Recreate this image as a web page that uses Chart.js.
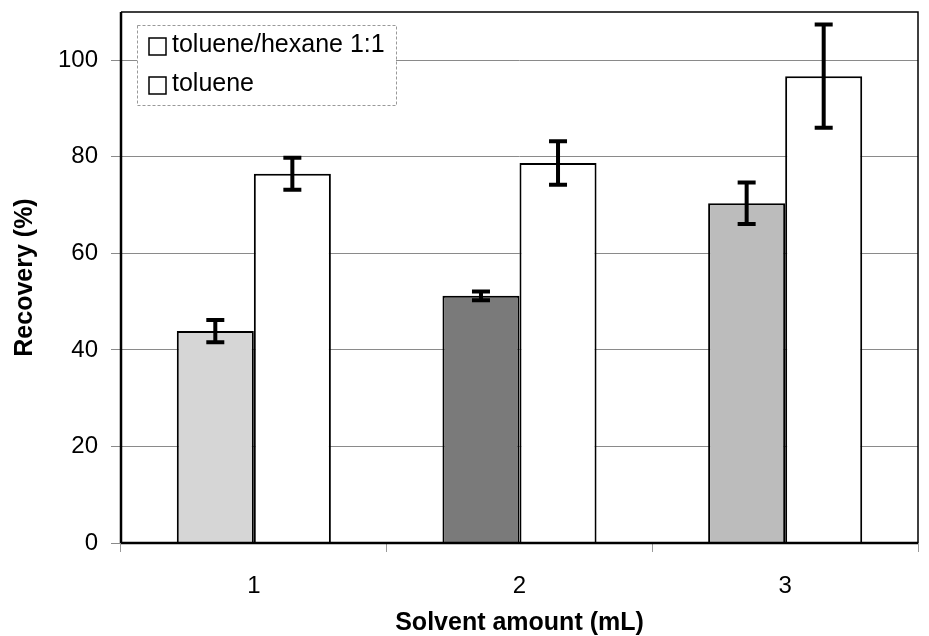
<!DOCTYPE html>
<html>
<head>
<meta charset="utf-8">
<script src="https://cdn.jsdelivr.net/npm/chart.js@4/dist/chart.umd.min.js"></script>
<style>
html,body{margin:0;padding:0;background:#fff;}
#wrap{position:relative;width:929px;height:636px;}
</style>
</head>
<body>
<div id="wrap"><canvas id="c" width="929" height="636"></canvas></div>
<script>
const categories = ['1', '2', '3'];
const seriesNames = ['toluene/hexane 1:1', 'toluene'];
const mixValues = [43.9, 51.2, 70.4];
const mixErrors = [2.3, 0.9, 4.3];
const tolueneValues = [76.5, 78.7, 96.7];
const tolueneErrors = [3.3, 4.5, 10.7];
const yTicks = [0, 20, 40, 60, 80, 100];
const yMax = 110;

const FONT = "'Liberation Sans', Arial, sans-serif";

const errorBars = {
  id: 'errorBars',
  afterDatasetsDraw(chart) {
    const ctx = chart.ctx, y = chart.scales.y;
    chart.data.datasets.forEach((ds, i) => {
      const meta = chart.getDatasetMeta(i);
      meta.data.forEach((el, j) => {
        const v = ds.data[j], e = ds.errors[j];
        const yt = y.getPixelForValue(v + e), yb = y.getPixelForValue(v - e);
        ctx.save();
        ctx.strokeStyle = '#000';
        ctx.lineWidth = 4;
        ctx.beginPath();
        ctx.moveTo(el.x, yt); ctx.lineTo(el.x, yb);
        ctx.moveTo(el.x - 9, yt); ctx.lineTo(el.x + 9, yt);
        ctx.moveTo(el.x - 9, yb); ctx.lineTo(el.x + 9, yb);
        ctx.stroke();
        ctx.restore();
      });
    });
  }
};

const frame = {
  id: 'frame',
  afterDatasetsDraw(chart) {
    const a = chart.chartArea, ctx = chart.ctx;
    ctx.save();
    ctx.strokeStyle = '#000';
    ctx.lineWidth = 1.5;
    ctx.beginPath();
    ctx.moveTo(a.left, a.top); ctx.lineTo(a.right, a.top); ctx.lineTo(a.right, a.bottom);
    ctx.stroke();
    ctx.lineWidth = 2.5;
    ctx.beginPath();
    ctx.moveTo(a.left, a.bottom); ctx.lineTo(a.right, a.bottom);
    ctx.moveTo(a.left, a.top); ctx.lineTo(a.left, a.bottom);
    ctx.stroke();
    ctx.restore();
  }
};

const boxLegend = {
  id: 'boxLegend',
  afterDraw(chart) {
    const a = chart.chartArea, ctx = chart.ctx;
    const x0 = a.left + 16, y0 = a.top + 13, w = 259, h = 80;
    ctx.save();
    ctx.fillStyle = '#fff';
    ctx.fillRect(x0, y0, w, h);
    ctx.strokeStyle = '#999';
    ctx.lineWidth = 1;
    ctx.setLineDash([3, 2]);
    ctx.strokeRect(x0 + 0.5, y0 + 0.5, w, h);
    ctx.setLineDash([]);
    ctx.font = '25px ' + FONT;
    ctx.textBaseline = 'alphabetic';
    chart.data.datasets.forEach((ds, i) => {
      const by = y0 + 27 + i * 39;
      ctx.fillStyle = '#fff';
      ctx.fillRect(x0 + 12, by - 14, 17, 17);
      ctx.strokeStyle = '#000';
      ctx.lineWidth = 1.5;
      ctx.strokeRect(x0 + 12, by - 14, 17, 17);
      ctx.fillStyle = '#000';
      ctx.fillText(ds.label, x0 + 35, by);
    });
    ctx.restore();
  }
};

new Chart(document.getElementById('c'), {
  type: 'bar',
  data: {
    labels: categories,
    datasets: [
      {
        label: seriesNames[0],
        data: mixValues,
        errors: mixErrors,
        backgroundColor: ['#d6d6d6', '#7a7a7a', '#bcbcbc'],
        borderColor: '#000',
        borderWidth: 2,
        borderSkipped: 'bottom'
      },
      {
        label: seriesNames[1],
        data: tolueneValues,
        errors: tolueneErrors,
        backgroundColor: '#ffffff',
        borderColor: '#000',
        borderWidth: 2,
        borderSkipped: 'bottom'
      }
    ]
  },
  options: {
    responsive: false,
    animation: false,
    devicePixelRatio: 1,
    layout: { padding: { top: 12, right: 11, left: 0, bottom: 0 } },
    datasets: { bar: { categoryPercentage: 0.58, barPercentage: 1.0 } },
    plugins: { legend: { display: false }, tooltip: { enabled: false } },
    scales: {
      x: {
        afterFit(s) { s.height = 93; s.paddingLeft = 0; s.paddingRight = 0; },
        grid: { display: true, offset: true, drawOnChartArea: false, tickLength: 9, color: '#999', lineWidth: 1 },
        border: { display: false },
        ticks: { color: '#000', font: { family: FONT, size: 24 }, padding: 20 },
        title: { display: true, text: 'Solvent amount (mL)', color: '#000', font: { family: FONT, size: 25, weight: 'bold' }, padding: { top: 0, bottom: -2 } }
      },
      y: {
        min: 0, max: yMax,
        afterFit(s) { s.width = 121; s.paddingTop = 0; s.paddingBottom = 0; },
        afterBuildTicks(s) { s.ticks = yTicks.map(v => ({ value: v })); },
        grid: { color: '#8a8a8a', lineWidth: 1, tickLength: 10 },
        border: { display: false },
        ticks: { color: '#000', font: { family: FONT, size: 24 }, padding: 13 },
        title: { display: true, text: 'Recovery (%)', color: '#000', font: { family: FONT, size: 25, weight: 'bold' }, padding: { top: 10, bottom: 0 } }
      }
    }
  },
  plugins: [errorBars, frame, boxLegend]
});
</script>
</body>
</html>
